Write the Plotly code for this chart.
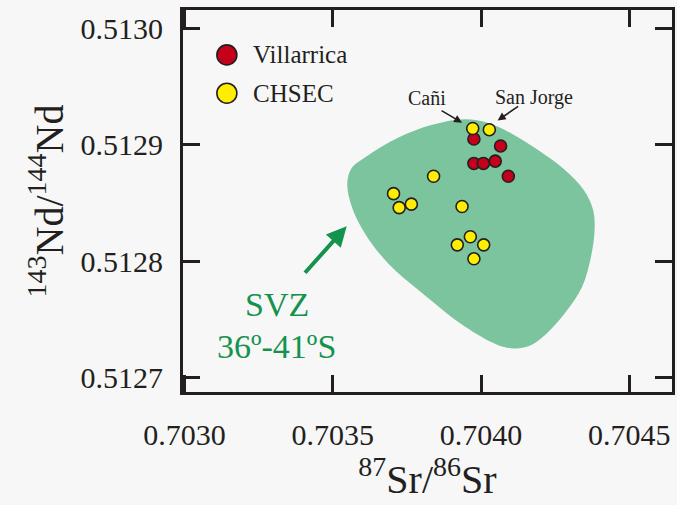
import plotly.graph_objects as go

# Isotope ratios: 87Sr/86Sr (x) and 143Nd/144Nd (y)
villarrica_sr = [0.703976, 0.704066, 0.703976, 0.704008, 0.704048, 0.704092]
villarrica_nd = [0.512905, 0.512899, 0.512884, 0.512884, 0.512886, 0.512873]

chsec_sr = [0.703972, 0.704028, 0.703840, 0.703705, 0.703724, 0.703765,
            0.703936, 0.703964, 0.703920, 0.704009, 0.703976]
chsec_nd = [0.512914, 0.512913, 0.512873, 0.512858, 0.512846, 0.512849,
            0.512847, 0.512821, 0.512814, 0.512814, 0.512802]

# Outline of the SVZ (36º-41ºS) compositional field
svz_sr = [0.703720, 0.703832, 0.703944, 0.704022, 0.704101, 0.704190, 0.704280,
          0.704347, 0.704378, 0.704383, 0.704371, 0.704341, 0.704285, 0.704218,
          0.704162, 0.704112, 0.704056, 0.703944, 0.703799, 0.703687, 0.703608,
          0.703564, 0.703549, 0.703564, 0.703620, 0.703720]
svz_nd = [0.512906, 0.512917, 0.512922, 0.512919, 0.512910, 0.512896, 0.512879,
          0.512861, 0.512844, 0.512827, 0.512804, 0.512778, 0.512756, 0.512737,
          0.512727, 0.512725, 0.512728, 0.512744, 0.512773, 0.512798, 0.512824,
          0.512847, 0.512867, 0.512880, 0.512891, 0.512906]

x_ticks = [0.7030, 0.7035, 0.7040, 0.7045]
y_ticks = [0.5127, 0.5128, 0.5129, 0.5130]

FONT = "Liberation Serif, Times New Roman, serif"
INK = "#231f20"
BG = "#f7f7f7"
RED = "#c4001a"
YELLOW = "#ffee00"
GREEN_FILL = "#7cc49e"
GREEN = "#14934f"

fig = go.Figure()

fig.add_trace(go.Scatter(
    x=svz_sr, y=svz_nd, mode="lines", fill="toself", fillcolor=GREEN_FILL,
    line=dict(width=0, shape="spline", smoothing=1, color=GREEN_FILL),
    hoverinfo="skip", showlegend=False,
))

fig.add_trace(go.Scatter(
    x=villarrica_sr, y=villarrica_nd, mode="markers", name="Villarrica",
    marker=dict(size=12, color=RED, line=dict(width=1.6, color=INK)),
    showlegend=False,
))
fig.add_trace(go.Scatter(
    x=chsec_sr, y=chsec_nd, mode="markers", name="CHSEC",
    marker=dict(size=12, color=YELLOW, line=dict(width=1.6, color=INK)),
    showlegend=False,
))

axis_common = dict(
    showline=True, linewidth=3, linecolor=INK, mirror="ticks",
    ticks="inside", ticklen=17, tickwidth=3, tickcolor=INK,
    showgrid=False, zeroline=False, tickformat=".4f",
    tickfont=dict(family=FONT, size=30, color=INK),
)

fig.update_xaxes(
    range=[0.702995, 0.704644], tickvals=x_ticks, **axis_common,
    ticklabelstandoff=14,
    title=dict(text="<sup>87</sup>Sr/<sup>86</sup>Sr",
               font=dict(family=FONT, size=40, color=INK), standoff=15),
)
fig.update_yaxes(
    range=[0.5126875, 0.5130159], tickvals=y_ticks, **axis_common,
    ticklabelstandoff=11,
    title=dict(text="<sup>143</sup>Nd/<sup>144</sup>Nd",
               font=dict(family=FONT, size=40, color=INK), standoff=5),
)

annotations = []
shapes = []

# Legend entries
for label, color, yp in [("Villarrica", RED, 0.8824), ("CHSEC", YELLOW, 0.7822)]:
    shapes.append(dict(
        type="circle", xref="paper", yref="paper", xsizemode="pixel",
        ysizemode="pixel", xanchor=0.0897, yanchor=yp,
        x0=-10, x1=10, y0=-10, y1=10,
        fillcolor=color, line=dict(color=INK, width=1.6),
    ))
    annotations.append(dict(
        text=label, xref="paper", yref="paper", x=0.1398, y=yp,
        xanchor="left", yanchor="middle", showarrow=False,
        font=dict(family=FONT, size=25, color=INK),
    ))

# Sample labels with pointers
annotations.append(dict(text="Cañi", xref="paper", yref="paper", x=0.4994, y=0.770,
                        xanchor="center", yanchor="middle", showarrow=False,
                        font=dict(family=FONT, size=20, color=INK)))
annotations.append(dict(text="San Jorge", xref="paper", yref="paper", x=0.7182, y=0.770,
                        xanchor="center", yanchor="middle", showarrow=False,
                        font=dict(family=FONT, size=20, color=INK)))
annotations.append(dict(text="", x=0.703936, y=0.512919, xref="x", yref="y",
                        ax=-22, ay=-13, showarrow=True, arrowhead=2, arrowsize=1,
                        arrowwidth=1.6, arrowcolor=INK))
annotations.append(dict(text="", x=0.704056, y=0.512921, xref="x", yref="y",
                        ax=22, ay=-15, showarrow=True, arrowhead=2, arrowsize=1,
                        arrowwidth=1.6, arrowcolor=INK))

# SVZ field label and arrow
annotations.append(dict(text="", x=0.703547, y=0.512830, xref="x", yref="y",
                        ax=-43, ay=48, showarrow=True, arrowhead=2, arrowsize=1,
                        arrowwidth=4, arrowcolor=GREEN))
annotations.append(dict(text="SVZ", xref="paper", yref="paper", x=0.192, y=0.2288,
                        xanchor="center", yanchor="middle", showarrow=False,
                        font=dict(family=FONT, size=34, color=GREEN)))
annotations.append(dict(text="36º-41ºS", xref="paper", yref="paper", x=0.192, y=0.119,
                        xanchor="center", yanchor="middle", showarrow=False,
                        font=dict(family=FONT, size=34, color=GREEN)))

fig.update_layout(
    width=677, height=505,
    margin=dict(l=182.8, r=5.2, t=10, b=112.5, autoexpand=False),
    paper_bgcolor=BG, plot_bgcolor=BG,
    annotations=annotations, shapes=shapes,
    showlegend=False,
)

fig.write_html("out.html")
